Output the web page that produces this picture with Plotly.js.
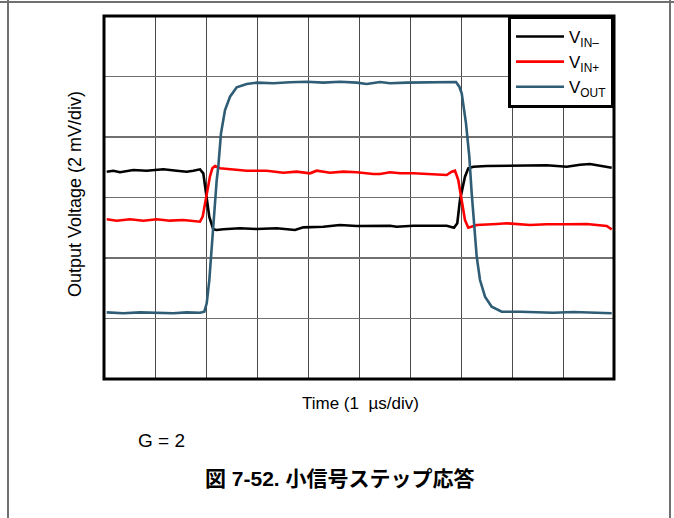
<!DOCTYPE html>
<html>
<head>
<meta charset="utf-8">
<script src="https://cdn.plot.ly/plotly-3.0.1.min.js"></script>
<style>
  html, body { margin: 0; padding: 0; background: #ffffff; }
  #chart { width: 674px; height: 518px; }
</style>
</head>
<body>
<div id="chart"></div>
<script>
// Time in divisions (1 µs/div), voltage in divisions (2 mV/div)
const vinMinusT = [0.053, 0.182, 0.314, 0.575, 0.837, 1.163, 1.425, 1.622, 1.751, 1.882, 1.947, 2.0, 2.065, 2.143, 2.21, 2.339, 2.667, 2.994, 3.386, 3.745, 3.908, 4.3, 4.627, 4.955, 5.28, 5.608, 5.739, 6.065, 6.392, 6.72, 6.863, 6.927, 6.98, 7.045, 7.078, 7.143, 7.241, 7.504, 8.025, 8.68, 9.073, 9.333, 9.529, 9.725, 9.955];
const vinMinusV = [3.427, 3.443, 3.417, 3.455, 3.443, 3.466, 3.443, 3.427, 3.443, 3.466, 3.40, 3.05, 2.68, 2.474, 2.463, 2.474, 2.491, 2.479, 2.491, 2.463, 2.507, 2.517, 2.545, 2.529, 2.534, 2.534, 2.517, 2.534, 2.534, 2.534, 2.501, 2.574, 2.959, 3.235, 3.344, 3.483, 3.509, 3.521, 3.521, 3.532, 3.509, 3.542, 3.554, 3.526, 3.493];

const vinPlusT = [0.053, 0.249, 0.51, 0.771, 1.033, 1.294, 1.555, 1.751, 1.882, 1.935, 1.98, 2.03, 2.078, 2.124, 2.176, 2.275, 2.471, 2.798, 3.19, 3.516, 3.778, 4.039, 4.171, 4.431, 4.692, 4.955, 5.28, 5.412, 5.608, 5.804, 6.065, 6.392, 6.72, 6.818, 6.882, 6.947, 6.98, 7.014, 7.078, 7.143, 7.308, 7.7, 7.896, 8.353, 8.68, 9.073, 9.465, 9.857, 9.955];
const vinPlusV = [2.640, 2.617, 2.640, 2.617, 2.640, 2.617, 2.628, 2.617, 2.600, 2.683, 2.904, 3.18, 3.35, 3.483, 3.521, 3.483, 3.466, 3.443, 3.443, 3.410, 3.427, 3.400, 3.443, 3.410, 3.427, 3.417, 3.388, 3.388, 3.417, 3.400, 3.400, 3.388, 3.372, 3.427, 3.443, 3.289, 3.124, 2.959, 2.628, 2.501, 2.545, 2.562, 2.574, 2.545, 2.557, 2.557, 2.562, 2.529, 2.474];

const voutT = [0.053, 0.378, 0.706, 1.033, 1.359, 1.622, 1.882, 1.967, 2.014, 2.065, 2.112, 2.157, 2.21, 2.241, 2.294, 2.373, 2.471, 2.602, 2.798, 2.994, 3.32, 3.647, 3.975, 4.3, 4.627, 4.955, 5.151, 5.412, 5.608, 5.935, 6.261, 6.588, 6.902, 6.967, 7.014, 7.098, 7.163, 7.21, 7.261, 7.308, 7.373, 7.471, 7.602, 7.798, 8.157, 8.549, 8.81, 9.202, 9.594, 9.955];
const voutV = [1.102, 1.086, 1.102, 1.096, 1.086, 1.102, 1.096, 1.112, 1.251, 1.636, 2.187, 2.739, 3.289, 3.509, 4.061, 4.446, 4.666, 4.821, 4.876, 4.898, 4.888, 4.904, 4.914, 4.898, 4.914, 4.898, 4.876, 4.909, 4.888, 4.898, 4.898, 4.909, 4.909, 4.831, 4.722, 4.226, 3.674, 3.069, 2.574, 2.021, 1.636, 1.360, 1.195, 1.112, 1.112, 1.102, 1.096, 1.107, 1.096, 1.086];

const seriesNames = ['V<sub>IN\u2013</sub>', 'V<sub>IN+</sub>', 'V<sub>OUT</sub>'];
const seriesColors = ['#000000', '#ff0000', '#2e5d75'];

const xTitle = 'Time (1  \u00b5s/div)';
const yTitle = 'Output Voltage (2 mV/div)';
const noteText = 'G = 2';
const figTitle = '\u56f3 7-52. \u5c0f\u4fe1\u53f7\u30b9\u30c6\u30c3\u30d7\u5fdc\u7b54';

const ARIAL = 'Arial, "Liberation Sans", sans-serif';

const traces = [
  { x: vinMinusT, y: vinMinusV, name: seriesNames[0], mode: 'lines', line: { color: seriesColors[0], width: 2.6 } },
  { x: vinPlusT, y: vinPlusV, name: seriesNames[1], mode: 'lines', line: { color: seriesColors[1], width: 2.6 } },
  { x: voutT, y: voutV, name: seriesNames[2], mode: 'lines', line: { color: seriesColors[2], width: 2.6 } }
];

const L = 104, R = 60, T = 16, B = 139, W = 674, H = 518;
const pw = W - L - R, ph = H - T - B;
const px = v => (v - L) / pw;
const py = v => (H - B - v) / ph;

const layout = {
  width: W, height: H,
  margin: { l: L, r: R, t: T, b: B, pad: 0 },
  paper_bgcolor: '#ffffff', plot_bgcolor: '#ffffff',
  font: { family: ARIAL, size: 17, color: '#000000' },
  showlegend: true,
  legend: {
    x: 1, y: 1, xanchor: 'right', yanchor: 'top',
    bgcolor: '#ffffff', bordercolor: '#000000', borderwidth: 3,
    font: { family: ARIAL, size: 17, color: '#000000' },
    itemwidth: 48,
    tracegroupgap: 0
  },
  xaxis: {
    range: [0, 10], dtick: 1, tick0: 0, showgrid: true, gridcolor: '#4a4a4a', gridwidth: 1,
    zeroline: false, showticklabels: false, ticks: '', showline: false, fixedrange: true
  },
  yaxis: {
    range: [0, 6], dtick: 1, tick0: 0, showgrid: true, gridcolor: '#707070', gridwidth: 1.2,
    zeroline: false, showticklabels: false, ticks: '', showline: false, fixedrange: true
  },
  shapes: [
    { type: 'rect', xref: 'paper', yref: 'paper', x0: 0, x1: 1, y0: 0, y1: 1, line: { color: '#000000', width: 3 }, layer: 'above' },
    { type: 'line', xref: 'paper', yref: 'paper', x0: px(0), x1: px(674), y0: py(2), y1: py(2), line: { color: '#707070', width: 2 } },
    { type: 'line', xref: 'paper', yref: 'paper', x0: px(8), x1: px(8), y0: py(0), y1: py(518), line: { color: '#707070', width: 2 } },
    { type: 'line', xref: 'paper', yref: 'paper', x0: px(670), x1: px(670), y0: py(0), y1: py(518), line: { color: '#707070', width: 2 } }
  ],
  annotations: [
    { text: xTitle, xref: 'paper', yref: 'paper', x: px(360.5), y: py(403), xanchor: 'center', yanchor: 'middle', showarrow: false, font: { family: ARIAL, size: 17 } },
    { text: yTitle, xref: 'paper', yref: 'paper', x: px(75), y: py(194), xanchor: 'center', yanchor: 'middle', textangle: -90, showarrow: false, font: { family: ARIAL, size: 18 } },
    { text: noteText, xref: 'paper', yref: 'paper', x: px(136), y: py(440), xanchor: 'left', yanchor: 'middle', showarrow: false, font: { family: ARIAL, size: 19 } },
    { text: '<b>' + figTitle + '</b>', xref: 'paper', yref: 'paper', x: px(340), y: py(478), xanchor: 'center', yanchor: 'middle', showarrow: false, font: { family: '"Liberation Sans", "Noto Sans CJK JP", sans-serif', size: 21 } }
  ]
};

Plotly.newPlot('chart', traces, layout, { displayModeBar: false, staticPlot: true });
</script>
</body>
</html>
